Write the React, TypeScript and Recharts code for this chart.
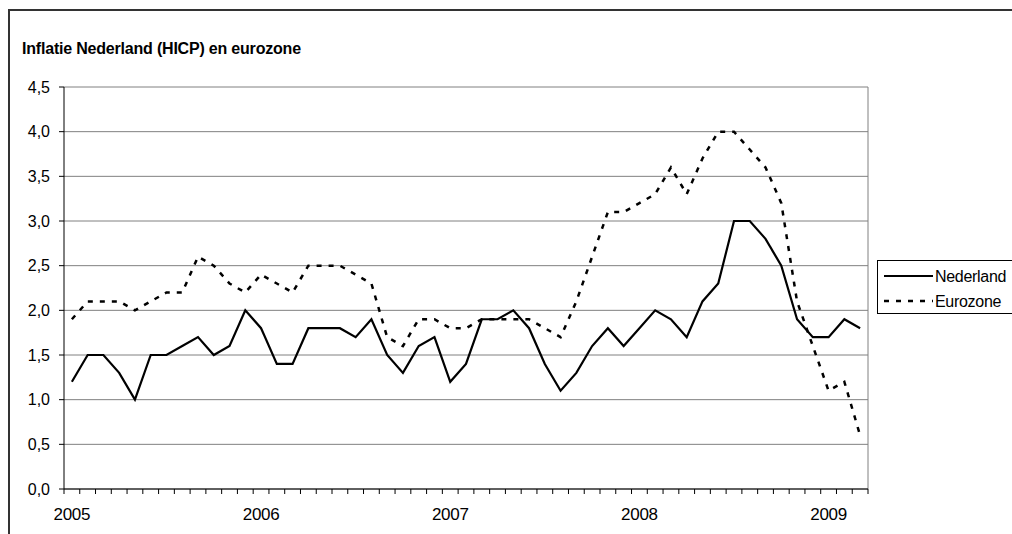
import React from 'react';
import { LineChart, Line, XAxis, YAxis, CartesianGrid, ReferenceLine } from 'recharts';

// maandcijfers jan 2005 t/m mrt 2009
const years = ['2005', '2006', '2007', '2008', '2009'];

const nederland = [
  1.2, 1.5, 1.5, 1.3, 1.0, 1.5, 1.5, 1.6, 1.7, 1.5, 1.6, 2.0,
  1.8, 1.4, 1.4, 1.8, 1.8, 1.8, 1.7, 1.9, 1.5, 1.3, 1.6, 1.7,
  1.2, 1.4, 1.9, 1.9, 2.0, 1.8, 1.4, 1.1, 1.3, 1.6, 1.8, 1.6,
  1.8, 2.0, 1.9, 1.7, 2.1, 2.3, 3.0, 3.0, 2.8, 2.5, 1.9, 1.7,
  1.7, 1.9, 1.8,
];

const eurozone = [
  1.9, 2.1, 2.1, 2.1, 2.0, 2.1, 2.2, 2.2, 2.6, 2.5, 2.3, 2.2,
  2.4, 2.3, 2.2, 2.5, 2.5, 2.5, 2.4, 2.3, 1.7, 1.6, 1.9, 1.9,
  1.8, 1.8, 1.9, 1.9, 1.9, 1.9, 1.8, 1.7, 2.1, 2.6, 3.1, 3.1,
  3.2, 3.3, 3.6, 3.3, 3.7, 4.0, 4.0, 3.8, 3.6, 3.2, 2.1, 1.6,
  1.1, 1.2, 0.6,
];

const yTicks = [0, 0.5, 1, 1.5, 2, 2.5, 3, 3.5, 4, 4.5];

const seriesNames = { nederland: 'Nederland', eurozone: 'Eurozone' };

const data = nederland.map((v, i) => ({
  i,
  month: years[Math.floor(i / 12)] + '-' + String((i % 12) + 1).padStart(2, '0'),
  nederland: v,
  eurozone: eurozone[i],
}));

// tick marks between the months, labels in the middle of january
const boundaries = Array.from({ length: data.length + 1 }, (_, k) => k - 0.5);
const yearStarts = years.map((_, k) => k * 12).filter((k) => k < data.length);
const xTicks = [...boundaries, ...yearStarts].sort((a, b) => a - b);

const font = '"Liberation Sans", Arial, sans-serif';

function MonthTick(props: any) {
  const { x, y, payload } = props;
  const v = payload.value;
  if (Number.isInteger(v)) {
    return (
      <text x={x} y={y + 31} textAnchor="middle" fontSize={17} fontFamily={font} fill="#000" letterSpacing={-0.3}>
        {years[v / 12]}
      </text>
    );
  }
  return <line x1={x} x2={x} y1={y} y2={y + 5} stroke="#000" strokeWidth={1} />;
}

function LegendBox() {
  return (
    <div
      style={{
        position: 'absolute', left: 869, top: 252, width: 150, height: 52,
        borderLeft: '1px solid #000', borderTop: '1px solid #000', borderBottom: '1px solid #000',
        background: '#fff',
      }}
    >
      <svg width={150} height={52} style={{ position: 'absolute', left: 0, top: 0 }}>
        <line x1={6} x2={55} y1={15} y2={15} stroke="#000" strokeWidth={2.2} />
        <line x1={6} x2={55} y1={40} y2={40} stroke="#000" strokeWidth={2.5} strokeDasharray="5 7" />
        <text x={57} y={20.5} fontSize={16} fontFamily={font} fill="#000" letterSpacing={-0.3}>{seriesNames.nederland}</text>
        <text x={57} y={45.5} fontSize={16} fontFamily={font} fill="#000" letterSpacing={-0.3}>{seriesNames.eurozone}</text>
      </svg>
    </div>
  );
}

export default function App() {
  return (
    <div style={{ position: 'fixed', left: 8, top: 8, width: 1004, height: 526, overflow: 'hidden', background: '#fff' }}>
      {/* chart frame: only left and top edges are visible */}
      <div style={{ position: 'absolute', left: 0, top: 1, width: 2, height: 540, background: '#333' }} />
      <div style={{ position: 'absolute', left: 0, top: 1, width: 1010, height: 2, background: '#333' }} />
      <div
        style={{
          position: 'absolute', left: 14, top: 33, fontFamily: font, fontWeight: 'bold',
          fontSize: 16, lineHeight: '16px', letterSpacing: -0.2, whiteSpace: 'nowrap',
        }}
      >
        Inflatie Nederland (HICP) en eurozone
      </div>
      <div style={{ position: 'absolute', left: 0, top: 0 }}>
        <LineChart width={1004} height={526} data={data} margin={{ top: 79, right: 144, bottom: 15, left: 0 }}>
          <CartesianGrid vertical={false} stroke="#808080" strokeWidth={1} />
          <XAxis
            dataKey="i"
            type="number"
            domain={[-0.5, data.length - 0.5]}
            ticks={xTicks}
            interval={0}
            tick={<MonthTick />}
            tickSize={0}
            tickMargin={0}
            tickLine={false}
            axisLine={{ stroke: '#000', strokeWidth: 1 }}
            height={30}
          />
          <YAxis
            domain={[0, 4.5]}
            ticks={yTicks}
            interval={0}
            width={56}
            tickSize={5}
            tickMargin={9}
            tickFormatter={(v: number) => v.toFixed(1).replace('.', ',')}
            tick={{ fontSize: 16, fontFamily: font, fill: '#000' }}
            tickLine={{ stroke: '#000' }}
            axisLine={{ stroke: '#000', strokeWidth: 1 }}
          />
          <ReferenceLine x={data.length - 0.5} stroke="#808080" strokeWidth={1} />
          <Line
            dataKey="nederland"
            name={seriesNames.nederland}
            stroke="#000"
            strokeWidth={2.2}
            dot={false}
            type="linear"
            isAnimationActive={false}
          />
          <Line
            dataKey="eurozone"
            name={seriesNames.eurozone}
            stroke="#000"
            strokeWidth={2.5}
            strokeDasharray="5 7"
            dot={false}
            type="linear"
            isAnimationActive={false}
          />
        </LineChart>
      </div>
      <LegendBox />
    </div>
  );
}
